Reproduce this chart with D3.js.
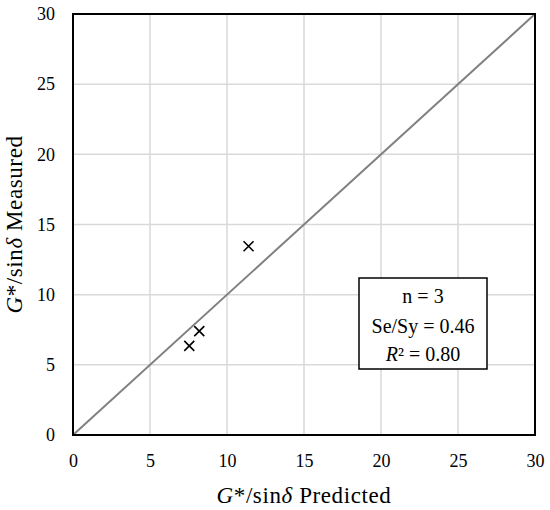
<!DOCTYPE html>
<html>
<head>
<meta charset="utf-8">
<script src="https://cdn.jsdelivr.net/npm/d3@7"></script>
<style>
  body { margin: 0; background: #fff; }
  text { font-family: "Liberation Serif", serif; fill: #000; }
</style>
</head>
<body>
<div id="chart"></div>
<script>
// data
var predicted = [11.4, 8.2, 7.55],
    measured = [13.45, 7.4, 6.35],
    ticks = [0, 5, 10, 15, 20, 25, 30],
    stats_lines = ["n = 3", "Se/Sy = 0.46", "R² = 0.80"];

// margins
var margin = {top: 14, right: 15, bottom: 75, left: 73},
    width = 550 - margin.left - margin.right,
    height = 510 - margin.top - margin.bottom;

// scales
var x = d3.scaleLinear().domain([0, 30]).range([0, width]),
    y = d3.scaleLinear().domain([0, 30]).range([height, 0]);

var svg = d3.select('#chart').append('svg')
    .attr('width', 550)
    .attr('height', 510)
  .append('g')
    .attr('transform', 'translate(' + margin.left + ',' + margin.top + ')');

// gridlines
svg.append('g').selectAll('line')
  .data(ticks.slice(1, -1))
  .enter().append('line')
    .attr('x1', d => x(d)).attr('x2', d => x(d))
    .attr('y1', 0).attr('y2', height)
    .attr('stroke', '#d9d9d9').attr('stroke-width', 1.5);
svg.append('g').selectAll('line')
  .data(ticks.slice(1, -1))
  .enter().append('line')
    .attr('y1', d => y(d)).attr('y2', d => y(d))
    .attr('x1', 0).attr('x2', width)
    .attr('stroke', '#d9d9d9').attr('stroke-width', 1.5);

// 1:1 line
svg.append('line')
  .attr('x1', x(0)).attr('y1', y(0))
  .attr('x2', x(30)).attr('y2', y(30))
  .attr('stroke', '#808080').attr('stroke-width', 2);

// frame
svg.append('rect')
  .attr('width', width).attr('height', height)
  .attr('fill', 'none').attr('stroke', '#000').attr('stroke-width', 2);

// axes
var x_axis = d3.axisBottom(x).tickValues(ticks).tickSize(0).tickPadding(19),
    y_axis = d3.axisLeft(y).tickValues(ticks).tickSize(0).tickPadding(18);

svg.append('g')
  .attr('transform', 'translate(0,' + height + ')')
  .call(x_axis)
  .attr('font-family', '"Liberation Serif", serif')
  .attr('font-size', 18)
  .call(g => g.select('.domain').remove());
svg.append('g')
  .call(y_axis)
  .attr('font-family', '"Liberation Serif", serif')
  .attr('font-size', 18)
  .call(g => g.select('.domain').remove());

// points (x markers)
var pts = predicted.map((p, i) => ({p: p, m: measured[i]})),
    s = 5;
svg.append('g').selectAll('path')
  .data(pts)
  .enter().append('path')
    .attr('d', d => {
      var cx = x(d.p), cy = y(d.m);
      return 'M' + (cx - s) + ',' + (cy - s) + 'L' + (cx + s) + ',' + (cy + s) +
             'M' + (cx - s) + ',' + (cy + s) + 'L' + (cx + s) + ',' + (cy - s);
    })
    .attr('stroke', '#000').attr('stroke-width', 1.6).attr('fill', 'none');

// stats box
var box = svg.append('g').attr('transform', 'translate(' + (359 - margin.left) + ',' + (278 - margin.top) + ')');
box.append('rect')
  .attr('width', 128).attr('height', 91)
  .attr('fill', '#fff').attr('stroke', '#000').attr('stroke-width', 1.5);
box.append('text').attr('x', 64).attr('y', 25).attr('text-anchor', 'middle')
  .style('font-size', '20px').text(stats_lines[0]);
box.append('text').attr('x', 64).attr('y', 55).attr('text-anchor', 'middle')
  .style('font-size', '20px').text(stats_lines[1]);
var r2 = box.append('text').attr('x', 64).attr('y', 83).attr('text-anchor', 'middle')
  .style('font-size', '20px');
r2.append('tspan').style('font-style', 'italic').text('R');
r2.append('tspan').text(stats_lines[2].slice(1));

// axis titles
var xt = svg.append('text')
  .attr('x', width / 2).attr('y', height + 68)
  .attr('text-anchor', 'middle').style('font-size', '23px').style('letter-spacing', '0.6px');
xt.append('tspan').style('font-style', 'italic').text('G');
xt.append('tspan').text('*/sin');
xt.append('tspan').style('font-style', 'italic').text('δ');
xt.append('tspan').text(' Predicted');

var yt = svg.append('text')
  .attr('transform', 'translate(' + (-51) + ',' + (height / 2) + ') rotate(-90)')
  .attr('text-anchor', 'middle').style('font-size', '23px').style('letter-spacing', '0.6px');
yt.append('tspan').style('font-style', 'italic').text('G');
yt.append('tspan').text('*/sin');
yt.append('tspan').style('font-style', 'italic').text('δ');
yt.append('tspan').text(' Measured');
</script>
</body>
</html>
